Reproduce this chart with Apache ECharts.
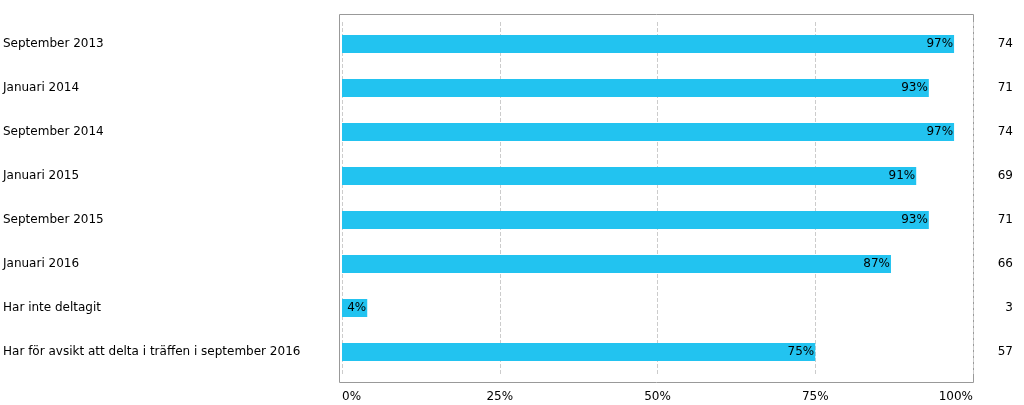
<!DOCTYPE html><html><head><meta charset="utf-8"><script src="https://cdn.jsdelivr.net/npm/echarts@6/dist/echarts.min.js"></script></head><body style="margin:0"><div id="c" style="width:1024px;height:405px"></div><script>
const categories=["September 2013","Januari 2014","September 2014","Januari 2015","September 2015","Januari 2016","Har inte deltagit","Har för avsikt att delta i träffen i september 2016"];
const values=[97,93,97,91,93,87,4,75];
const counts=["74","71","74","69","71","66","3","57"];
const ch=echarts.init(document.getElementById('c'));
const f="DejaVu Sans";
ch.setOption({animation:false,
graphic:[{type:'rect',shape:{x:339.5,y:14.5,width:634,height:368},style:{fill:'none',stroke:'#999',lineWidth:1}}],
grid:{left:339,right:51,top:22,bottom:31},
xAxis:{type:'value',min:0,max:100,interval:25,axisLine:{show:false},axisTick:{show:false},
 splitLine:{lineStyle:{type:'dashed',color:'#ccc'}},
 axisLabel:{formatter:'{value}%',color:'#000',fontFamily:f,fontSize:12,margin:17,alignMinLabel:'left',alignMaxLabel:'right'}},
yAxis:[{type:'category',data:categories,inverse:true,axisLine:{show:false},axisTick:{show:false},
 axisLabel:{align:'left',margin:339,color:'#000',fontFamily:f,fontSize:12}},
 {type:'category',data:counts,inverse:true,position:'right',axisLine:{show:false},axisTick:{show:false},
 axisLabel:{align:'right',margin:40,color:'#000',fontFamily:f,fontSize:12}}],
series:[{type:'bar',data:values,barWidth:18,itemStyle:{color:'#22c3f0'},
 label:{show:true,position:'insideRight',distance:1,formatter:'{c}%',color:'#000',fontFamily:f,fontSize:12}}]});
</script></body></html>
